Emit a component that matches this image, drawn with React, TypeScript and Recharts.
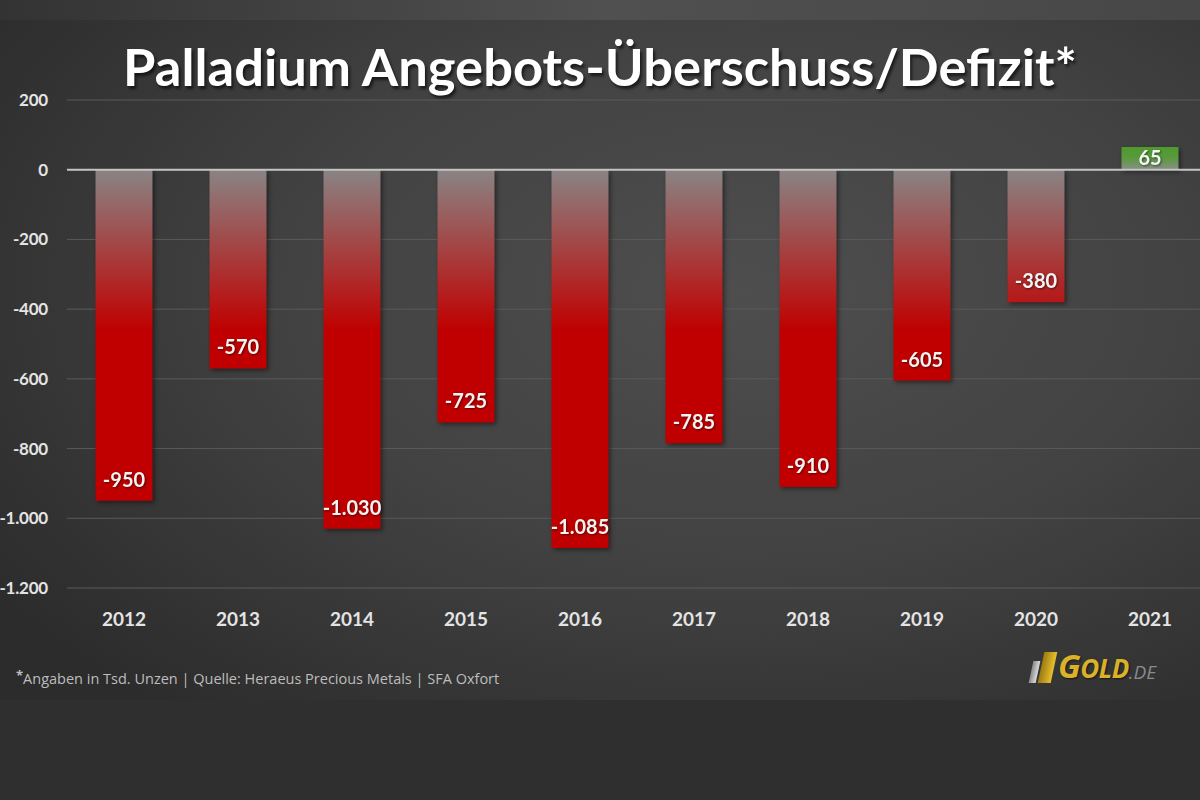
import { BarChart, Bar, XAxis, YAxis, CartesianGrid, ReferenceLine, LabelList, Cell } from "recharts";

const years = ["2012", "2013", "2014", "2015", "2016", "2017", "2018", "2019", "2020", "2021"];
const balance = [-950, -570, -1030, -725, -1085, -785, -910, -605, -380, 65];
const yTicks = [-1200, -1000, -800, -600, -400, -200, 0, 200];

const data = years.map((year, i) => ({ year, value: balance[i] }));

const font = "Lato, 'Open Sans', sans-serif";

const fmt = (v: number) => {
  const s = Math.abs(v).toString().replace(/\B(?=(\d{3})+(?!\d))/g, ".");
  return (v < 0 ? "-" : "") + s;
};

const YTick = ({ y, payload }: any) => (
  <text x={48} y={y} dy={6} textAnchor="end" fill="#e4e4e4" fontSize={17} fontWeight={700} fontFamily={font} letterSpacing={-0.2}>
    {fmt(payload.value)}
  </text>
);

const XTick = ({ x, y, payload }: any) => (
  <text x={x} y={y} dy={30} textAnchor="middle" fill="#e4e4e4" fontSize={19} fontWeight={700} fontFamily={font}>
    {payload.value}
  </text>
);

const BarLabel = ({ x, y, width, height, value }: any) => {
  const top = Math.min(y, y + height);
  const bottom = Math.max(y, y + height);
  const cy = value < 0 ? bottom - 21 : (top + bottom) / 2;
  return (
    <text
      x={x + width / 2}
      y={cy}
      dy={7}
      textAnchor="middle"
      fill="#f4f4f4"
      fontSize={20}
      fontWeight={700}
      fontFamily={font}
      style={{ filter: "drop-shadow(1px 1px 1px rgba(0,0,0,0.5))" }}
    >
      {fmt(value)}
    </text>
  );
};

export default function App() {
  return (
    <div
      style={{
        position: "absolute",
        left: 0,
        top: 0,
        width: 1200,
        height: 800,
        overflow: "hidden",
        background: "#2f2f2f",
      }}
    >
      <div style={{ position: "absolute", left: 0, top: 0, width: 1200, height: 20, background: "linear-gradient(90deg, #333 0%, #505050 50%, #474747 100%)" }} />
      <div
        style={{
          position: "absolute",
          left: 0,
          top: 20,
          width: 1200,
          height: 680,
          background: "radial-gradient(ellipse 75% 80% at 62% 40%, #4e4e4e 0%, #424242 50%, #2c2c2c 100%)",
        }}
      />
      <div
        style={{
          position: "absolute",
          left: 0,
          top: 34,
          width: 1200,
          textAlign: "center",
          color: "#ffffff",
          fontFamily: font,
          fontWeight: 700,
          fontSize: 52.5,
          textShadow: "2px 3px 3px rgba(0,0,0,0.6)",
        }}
      >
        Palladium Angebots-Überschuss/Defizit*
      </div>
      <div style={{ position: "absolute", left: 0, top: 0 }}>
        <BarChart
          width={1210}
          height={700}
          data={data}
          margin={{ top: 100, right: 3, bottom: 82, left: 0 }}
          barCategoryGap="25%"
        >
          <defs>
            <linearGradient id="negFill" gradientUnits="userSpaceOnUse" x1="0" y1="172" x2="0" y2="330">
              <stop offset="0%" stopColor="#8a8282" />
              <stop offset="100%" stopColor="#c00000" />
            </linearGradient>
            <linearGradient id="posFill" gradientUnits="userSpaceOnUse" x1="0" y1="148" x2="0" y2="170">
              <stop offset="0%" stopColor="#4f9a2e" />
              <stop offset="45%" stopColor="#5a9a3e" />
              <stop offset="100%" stopColor="#8a8f88" />
            </linearGradient>
          </defs>
          <CartesianGrid vertical={false} stroke="#5a5a5a" strokeWidth={1} />
          <XAxis dataKey="year" axisLine={false} tickLine={false} tick={<XTick />} height={30} interval={0} />
          <YAxis
            width={67}
            domain={[-1200, 200]}
            ticks={yTicks}
            axisLine={false}
            tickLine={false}
            tick={<YTick />}
            interval={0}
          />
          <Bar dataKey="value" isAnimationActive={false} style={{ filter: "drop-shadow(2px 2px 2px rgba(0,0,0,0.45))" }}>
            {data.map((d) => (
              <Cell key={d.year} fill={d.value < 0 ? "url(#negFill)" : "url(#posFill)"} />
            ))}
            <LabelList dataKey="value" content={<BarLabel />} />
          </Bar>
          <ReferenceLine y={0} stroke="#c4c4c4" strokeWidth={2} />
        </BarChart>
      </div>
      <div
        style={{
          position: "absolute",
          left: 16,
          top: 666,
          color: "#bdbdbd",
          fontFamily: "'Open Sans', sans-serif",
          fontSize: 14.5,
          whiteSpace: "nowrap",
        }}
      >
        <sup style={{ fontSize: 13, fontWeight: 700, verticalAlign: 4 }}>*</sup>Angaben in Tsd. Unzen | Quelle: Heraeus Precious Metals | SFA Oxfort
      </div>
      <div style={{ position: "absolute", left: 1031, top: 650, height: 36, display: "flex", alignItems: "flex-end" }}>
        <div style={{ width: 7, height: 22, marginRight: 3, marginBottom: 3, background: "linear-gradient(90deg, #888, #ddd)", transform: "skewX(-12deg)" }} />
        <div style={{ width: 13, height: 31, marginRight: 4, marginBottom: 3, background: "linear-gradient(90deg, #9a7a10, #e8c030)", transform: "skewX(-12deg)" }} />
        <span
          style={{
            fontFamily: "'Open Sans', sans-serif",
            fontWeight: 700,
            fontStyle: "italic",
            fontSize: 33,
            lineHeight: "36px",
            color: "#d9b22a",
            letterSpacing: -0.5,
            textShadow: "1px 1px 2px rgba(0,0,0,0.6)",
          }}
        >
          G<span style={{ fontSize: 26 }}>OLD</span>
        </span>
        <span style={{ fontFamily: "'Open Sans', sans-serif", fontStyle: "italic", fontSize: 19, lineHeight: "28px", color: "#8a8a8a" }}>
          .DE
        </span>
      </div>
    </div>
  );
}
